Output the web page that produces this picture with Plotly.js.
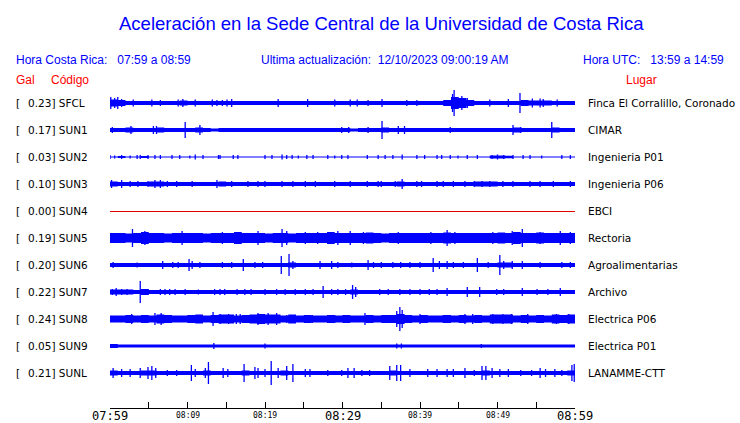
<!DOCTYPE html>
<html>
<head>
<meta charset="utf-8">
<script src="https://cdn.plot.ly/plotly-3.0.1.min.js"></script>
<style>html,body{margin:0;padding:0;background:#fff;}#chart{width:740px;height:423px;}</style>
</head>
<body>
<div id="chart"></div>
<script>
// ---- Data ----
const codes  = ['SFCL','SUN1','SUN2','SUN3','SUN4','SUN5','SUN6','SUN7','SUN8','SUN9','SUNL'];
const gal    = [0.23, 0.17, 0.03, 0.10, 0.00, 0.19, 0.20, 0.22, 0.24, 0.05, 0.21];
const places = ['Finca El Corralillo, Coronado','CIMAR','Ingenieria P01','Ingenieria P06','EBCI',
                'Rectoria','Agroalimentarias','Archivo','Electrica P06','Electrica P01','LANAMME-CTT'];
const tickMinutes = [0,5,10,15,20,25,30,35,40,45,50,55,60];
const tickLabels  = ['07:59','','08:09','','08:19','','08:29','','08:39','','08:49','','08:59'];
const majorTicks  = ['07:59','08:29','08:59'];

// background noise envelope, one value per minute (half amplitude)
const env_SFCL = [3.5,3,2,2,2,2,2,2,2,2.5, 2,2,2,2,2,2,2,2,2,2, 2,2,2,2,2,2,2,2,2,2, 2,2,2,2,2,2,2,2,2,2, 2,2,2,3,6,5,3,2,2,2, 2,2,2,3,2.5,2.5,2.5,2,2,2];
const env_SUN1 = [2,2,2.5,2,2,2,2.5,2,2,2, 2,2.5,2,1.5,2,2,2,2,2,2, 2,2,2,2,2,2,2,2,2,2, 2,1.5,2,2,2,2.5,2,2,2,2, 2,2,2,2,2,2,2,2,2,2, 2,2,2.5,2,2,2,2,2.5,2,2];
const env_SUN2 = [0.6,1,0.6,0.6,1,0.6,0.6,0.6,0.6,0.6, 0.6,0.6,0.6,0.6,0.6,0.6,0.6,0.6,0.6,0.6, 0.6,0.6,0.6,0.6,0.6,0.6,0.6,0.6,0.6,0.6, 0.6,0.6,0.6,0.6,0.6,0.6,0.6,0.6,0.6,0.6, 0.6,0.6,0.6,0.6,0.6,0.6,0.6,0.6,0.6,1.5, 1.5,1.2,0.6,0.6,0.6,0.6,0.6,0.6,0.6,0.6];
const env_SUN3 = [2.5,2,2,2,2,2.5,2.5,2,2,2, 2,2,2,2,2.5,2,2,2,2,2, 2,2,2,2,2,2,2,2,2,2, 2,2,2,2,2,2,2,2.5,2,2, 2,2,2,2,2,2,2,2.5,2.5,2.5, 2,2,2,2,2,2,2,2,2,2];
const env_SUN4 = [0,0,0,0,0,0,0,0,0,0, 0,0,0,0,0,0,0,0,0,0, 0,0,0,0,0,0,0,0,0,0, 0,0,0,0,0,0,0,0,0,0, 0,0,0,0,0,0,0,0,0,0, 0,0,0,0,0,0,0,0,0,0];
const env_SUN5 = [5,5,4.5,5,6,5,5,4.5,5,5, 5,5,4.5,5,5,5,6,5,5,5, 4.5,5,5,4.5,5,5,5,5,6,5, 5,5,5,5.5,5,4.5,5,5,5,5, 5,5,5,5.5,5,5,5,5,5,5, 5.5,5,6,5,5,5.5,5,5,5,5];
const env_SUN6 = [2,2,2,2,2,2,2,2,2,2, 2,2,2,2,2,2,2,2,2,2, 2,2,2,2.5,2,2,2,2,2,2, 2,2,2,2,2,2,2,2,2,2, 2,2,2,2,2,2,2,2,2,2, 2.5,2.5,2,2,2,2,2,2,2,2];
const env_SUN7 = [2.5,2.5,2.5,2,3,2,2,2,2,2, 2,2,2,2,2,2,2,2,2,2, 2,2,2,2,2,2,2,2,2,2, 2,2.5,2,2,2,2,2,2,2,2, 2,2,2,2,2,2,2,2,2,2, 2,2,2,2,2,2,2,2,2,2];
const env_SUN8 = [3.5,3.5,4,3.5,4,3.5,4.5,4,3.5,3.5, 4,4.5,3.5,4,4.5,4.5,3.5,4,4.5,5, 4.5,4.5,3.5,4.5,3.5,4,3.5,3.5,4,3.5, 4,3.5,3.5,4,3.5,4,4,5,4,3.5, 4,3.5,3.5,4,3.5,4,3.5,4,3.5,4.5, 4.5,4.5,3.5,4,3.5,4,3.5,4.5,4,4.5];
const env_SUN9 = [2,1.5,1.5,1.5,1.5,1.5,1.5,1.5,1.5,1.5, 1.5,1.5,1.5,1.5,1.5,1.5,1.5,1.5,1.5,1.5, 1.5,1.5,1.5,1.5,1.5,1.5,1.5,1.5,1.5,1.5, 1.5,1.5,1.5,1.5,1.5,1.5,1.5,1.5,1.5,1.5, 1.5,1.5,1.5,1.5,1.5,1.5,1.5,1.5,1.5,1.5, 1.5,1.5,1.5,1.5,1.5,1.5,1.5,1.5,1.5,1.5];
const env_SUNL = [2.5,2,2,2,2.5,2.5,2,2,2,2, 2,2,2.5,2,2,2,2,2.5,2,2, 2,2,2.5,2,2,2,2,2,2,2, 2,2,2,2,2,2,2.5,2,2,2, 2,2,2,2,2,2,2,2,2.5,2, 2,2,2,2,2,2,2,2,2,2.5];

// transient peaks: [minute after 07:59, half amplitude]
const pk_SFCL = [[0.1,6],[0.6,5],[1.0,6],[1.5,4],[3.0,3.5],[5.4,3.5],[6.5,3],[8.8,3.5],[9.4,4],[11.0,3.5],[13.2,3.5],[13.8,3],[14.5,3],[15.1,3.5],[15.7,4],[21.7,4],[25.5,4],[29.0,3.5],[31.0,3.5],[31.9,3.5],[33.3,3],[35.1,4],[38.3,3],[39.6,3],[44.2,9],[44.4,13],[45.4,7],[46.1,5],[49.0,3.5],[51.4,4],[52.9,10],[54.5,4.5],[55.5,4.5],[55.9,4],[57.7,3.5]];
const pk_SUN1 = [[0.3,3],[2.7,4],[5.6,4],[6.0,4],[9.7,8],[11.6,5],[29.9,3],[30.8,3],[33.3,3],[35.1,9],[37.2,4],[38.0,4],[43.9,3],[52.0,5],[53.0,3],[57.0,8]];
const pk_SUN2 = [[0,2],[0.6,1.5],[1.5,2],[2.6,1.5],[3.5,2],[3.9,2],[4.9,2],[5.8,2],[6.5,2],[8.0,2],[9.0,2],[10.3,1.5],[11.0,2.5],[12.0,2],[14.0,2],[14.2,2],[15.9,2],[16.5,2],[20.0,2],[20.9,2],[22.2,2.5],[22.8,2],[23.5,2],[24.3,1.5],[25.4,2],[26.2,2],[28.1,2],[29.0,1.5],[29.9,2],[30.7,2],[33.2,2],[34.6,2],[35.5,2],[36.5,2],[37.7,2.5],[39.6,2],[40.6,2],[42.2,2],[42.8,2],[43.9,2],[44.9,1.5],[46.1,2],[47.4,2],[49.3,2],[50.0,2.5],[50.8,2],[52.0,2],[53.3,2],[54.2,2],[55.7,1.5],[58.3,2],[59.4,2]];
const pk_SUN3 = [[0.2,4],[1.5,4],[2.6,3],[3.6,3],[4.9,3],[5.8,4],[6.5,4],[7.4,3],[8.6,3],[10.6,3],[13.8,4],[15.7,3],[17.8,3],[19.1,3],[20.0,3],[22.2,3],[23.6,3],[25.2,3],[26.5,3],[29.0,3],[31.0,3],[33.2,3],[34.6,3],[35.0,3],[36.8,3],[37.7,5],[39.6,3],[40.2,3],[42.2,3],[43.0,3],[44.3,3],[45.8,3],[47.0,3],[48.0,3],[49.0,3],[50.7,3],[52.0,3],[54.2,3],[55.5,3],[57.2,3],[59.4,3]];
const pk_SUN4 = [];
const pk_SUN5 = [[2.9,9],[4.5,7],[9.3,7],[14.5,6],[19.1,7],[22.2,9],[22.8,7],[25.2,6],[26.8,6],[29.4,7],[31.0,7],[32.7,6],[37.2,6],[41.4,6],[43.5,8],[44.5,6],[49.4,6],[51.9,7],[53.2,9],[55.5,6],[58.1,7],[59.4,6]];
const pk_SUN6 = [[0.4,3],[3.5,2.5],[6.8,4],[8.1,3],[8.8,3],[10.2,6],[10.6,4],[11.6,3],[14.5,3],[15.7,3],[17.2,6],[18.7,3],[19.7,3],[22.1,9],[23.1,11],[23.6,4],[27.1,4],[28.6,4],[29.4,3],[31.2,2.5],[33.3,5],[34.0,3],[35.0,3],[36.5,3],[37.5,3],[38.7,3],[40.0,3],[41.7,7],[42.5,4],[43.5,4],[44.3,3],[45.6,3],[47.4,7],[48.8,3],[50.3,10],[50.8,4],[51.9,4],[53.2,4],[55.5,3],[58.3,3],[59.4,3]];
const pk_SUN7 = [[0.3,3],[0.8,4],[1.5,3],[2.2,3],[3.9,11],[4.9,3],[6.5,3],[7.1,3],[7.7,3],[8.4,3],[9.7,3],[11.4,2.5],[13.5,3],[14.2,3],[14.8,3],[16.4,3],[17.4,3],[18.2,3],[20.0,3],[21.5,3],[22.6,3],[23.9,3],[25.2,3],[26.2,3],[27.5,6],[28.6,3],[29.4,3],[30.4,3],[31.3,7],[31.7,5],[34.8,3],[35.9,3],[37.4,3],[38.7,3],[40.0,3],[41.2,3],[42.2,3],[43.5,4],[46.1,5],[47.7,5],[49.9,3],[50.8,3],[53.2,4],[55.1,3],[56.5,3],[58.1,4]];
const pk_SUN8 = [[2.8,5],[4.1,4],[5.8,6],[6.6,6],[10.1,4],[11.0,4],[13.3,7],[14.2,5],[15.3,5],[16.3,5],[16.8,5],[19.1,6],[20.4,6],[21.5,6],[22.8,4],[26.1,4],[29.0,4],[30.6,4],[32.9,6],[37.0,8],[37.4,12],[37.7,9],[40.0,5],[43.0,4],[45.8,5],[46.8,5],[49.4,5],[50.7,5],[51.8,5],[53.9,5],[57.6,5],[59.2,5]];
const pk_SUN9 = [[13.4,3],[20.0,2.5],[37.0,2.5],[37.6,2.5],[47.9,2]];
const pk_SUNL = [[0.4,5],[1.5,4],[2.6,4],[3.9,5],[4.9,6],[5.4,7],[5.9,5],[7.4,3],[8.6,3],[10.5,8],[11.0,4],[12.3,5],[12.7,11],[14.6,5],[15.2,4],[17.3,9],[18.7,6],[19.1,5],[20.0,4],[20.8,12],[21.7,5],[22.8,7],[23.6,9],[25.2,4],[25.8,4],[28.1,3],[29.9,3],[30.7,5],[31.5,5],[32.5,3],[33.5,3],[36.1,7],[37.0,8],[37.5,8],[38.7,4],[41.0,4],[42.2,4],[43.5,4],[44.3,4],[45.8,5],[47.0,3],[48.0,7],[48.5,7],[49.3,5],[50.3,4],[51.4,4],[53.0,3],[54.4,3],[55.5,5],[56.2,4],[57.4,4],[58.3,3],[59.6,8],[59.9,9]];

const envs  = [env_SFCL,env_SUN1,env_SUN2,env_SUN3,env_SUN4,env_SUN5,env_SUN6,env_SUN7,env_SUN8,env_SUN9,env_SUNL];
const peaks = [pk_SFCL,pk_SUN1,pk_SUN2,pk_SUN3,pk_SUN4,pk_SUN5,pk_SUN6,pk_SUN7,pk_SUN8,pk_SUN9,pk_SUNL];

// ---- Build ----
const ROW = 27;           // vertical spacing between stations (axis units)
const BLUE = '#0000ff', RED = '#e00000', TEXTRED = '#ff0000';
const T0 = tickMinutes[0], T1 = tickMinutes[tickMinutes.length-1];
const traces = [];
codes.forEach((c, k) => {
  const center = k * ROW;
  const env = envs[k];
  if (env.every(v => v === 0)) {
    traces.push({type:'scatter', mode:'lines', x:[T0, T1], y:[center + 0.5, center + 0.5],
      line:{color:RED, width:1}, hoverinfo:'skip', showlegend:false});
    return;
  }
  const xs = env.map((v,i)=>i).concat([T1]);
  const ev = env.concat([env[env.length-1]]);
  traces.push({type:'scatter', mode:'lines', x:xs, y:ev.map(v=>center-v), line:{color:BLUE, width:0, shape:'hv'},
    hoverinfo:'skip', showlegend:false});
  traces.push({type:'scatter', mode:'lines', x:xs, y:ev.map(v=>center+v), line:{color:BLUE, width:0, shape:'hv'},
    fill:'tonexty', fillcolor:BLUE, hoverinfo:'skip', showlegend:false});
  const pk = peaks[k];
  if (pk.length) {
    const sx = [], sy = [];
    pk.forEach(p => { sx.push(p[0], p[0], null); sy.push(center-p[1], center+p[1], null); });
    traces.push({type:'scatter', mode:'lines', x:sx, y:sy, line:{color:BLUE, width:1.3},
      connectgaps:false, hoverinfo:'skip', showlegend:false});
  }
});

const L = 110, R = 575, W = R - L;
const px = v => (v - L) / W;
const ann = [];
const hdr = {family:'"Liberation Sans", Arial, sans-serif', size:12, color:BLUE};
const red = {family:'"Liberation Sans", Arial, sans-serif', size:12, color:TEXTRED};
function paperY(py){ return (408 - py) / 320; }
ann.push({text:'Aceleración en la Sede Central de la Universidad de Costa Rica', xref:'paper', yref:'paper',
  x:px(381), y:paperY(23), xanchor:'center', yanchor:'middle', showarrow:false,
  font:{family:'"Liberation Sans", Arial, sans-serif', size:18.5, color:BLUE}});
ann.push({text:'Hora Costa Rica:   07:59 a 08:59', xref:'paper', yref:'paper', x:px(14), y:paperY(60), xanchor:'left', yanchor:'middle', showarrow:false, font:hdr});
ann.push({text:'Ultima actualización:  12/10/2023 09:00:19 AM', xref:'paper', yref:'paper', x:px(259), y:paperY(60), xanchor:'left', yanchor:'middle', showarrow:false, font:hdr});
ann.push({text:'Hora UTC:   13:59 a 14:59', xref:'paper', yref:'paper', x:px(726), y:paperY(60), xanchor:'right', yanchor:'middle', showarrow:false, font:hdr});
ann.push({text:'Gal', xref:'paper', yref:'paper', x:px(14), y:paperY(80), xanchor:'left', yanchor:'middle', showarrow:false, font:red});
ann.push({text:'Código', xref:'paper', yref:'paper', x:px(49), y:paperY(80), xanchor:'left', yanchor:'middle', showarrow:false, font:red});
ann.push({text:'Lugar', xref:'paper', yref:'paper', x:px(624), y:paperY(80), xanchor:'left', yanchor:'middle', showarrow:false, font:red});

const lab = {family:'"DejaVu Sans", sans-serif', size:10.5, color:'#000'};
codes.forEach((c,k) => {
  const y = k * ROW;
  ann.push({text:'[', xref:'paper', yref:'y', x:px(14), y:y, xanchor:'left', yanchor:'middle', showarrow:false, font:lab});
  ann.push({text:gal[k].toFixed(2)+'] '+c, xref:'paper', yref:'y', x:px(26), y:y, xanchor:'left', yanchor:'middle', showarrow:false, font:lab});
  ann.push({text:places[k], xref:'paper', yref:'y', x:px(586), y:y, xanchor:'left', yanchor:'middle', showarrow:false, font:lab});
});
tickMinutes.forEach((m,i) => {
  const t = tickLabels[i];
  if (!t) return;
  const big = majorTicks.includes(t);
  ann.push({text:t, xref:'x', yref:'paper', x:m, y:0, xanchor:'center', yanchor:'top', yshift: big ? 1 : -1,
    showarrow:false, font:{family:'"DejaVu Sans Mono", monospace', size: big ? 12 : 8, color:'#000'}});
});

const layout = {
  width:740, height:423, margin:{l:L, r:740-R, t:88, b:15},
  paper_bgcolor:'#fff', plot_bgcolor:'#fff', showlegend:false,
  xaxis:{range:[T0, T1], showgrid:false, zeroline:false, showline:true,
         linecolor:'#000', linewidth:1, ticks:'inside', ticklen:6, tickcolor:'#000', tickwidth:1,
         tickmode:'array', tickvals:tickMinutes, showticklabels:false, fixedrange:true},
  yaxis:{range:[305,-15], visible:false, fixedrange:true},
  annotations: ann
};
Plotly.newPlot('chart', traces, layout, {displayModeBar:false, staticPlot:true});
</script>
</body>
</html>
